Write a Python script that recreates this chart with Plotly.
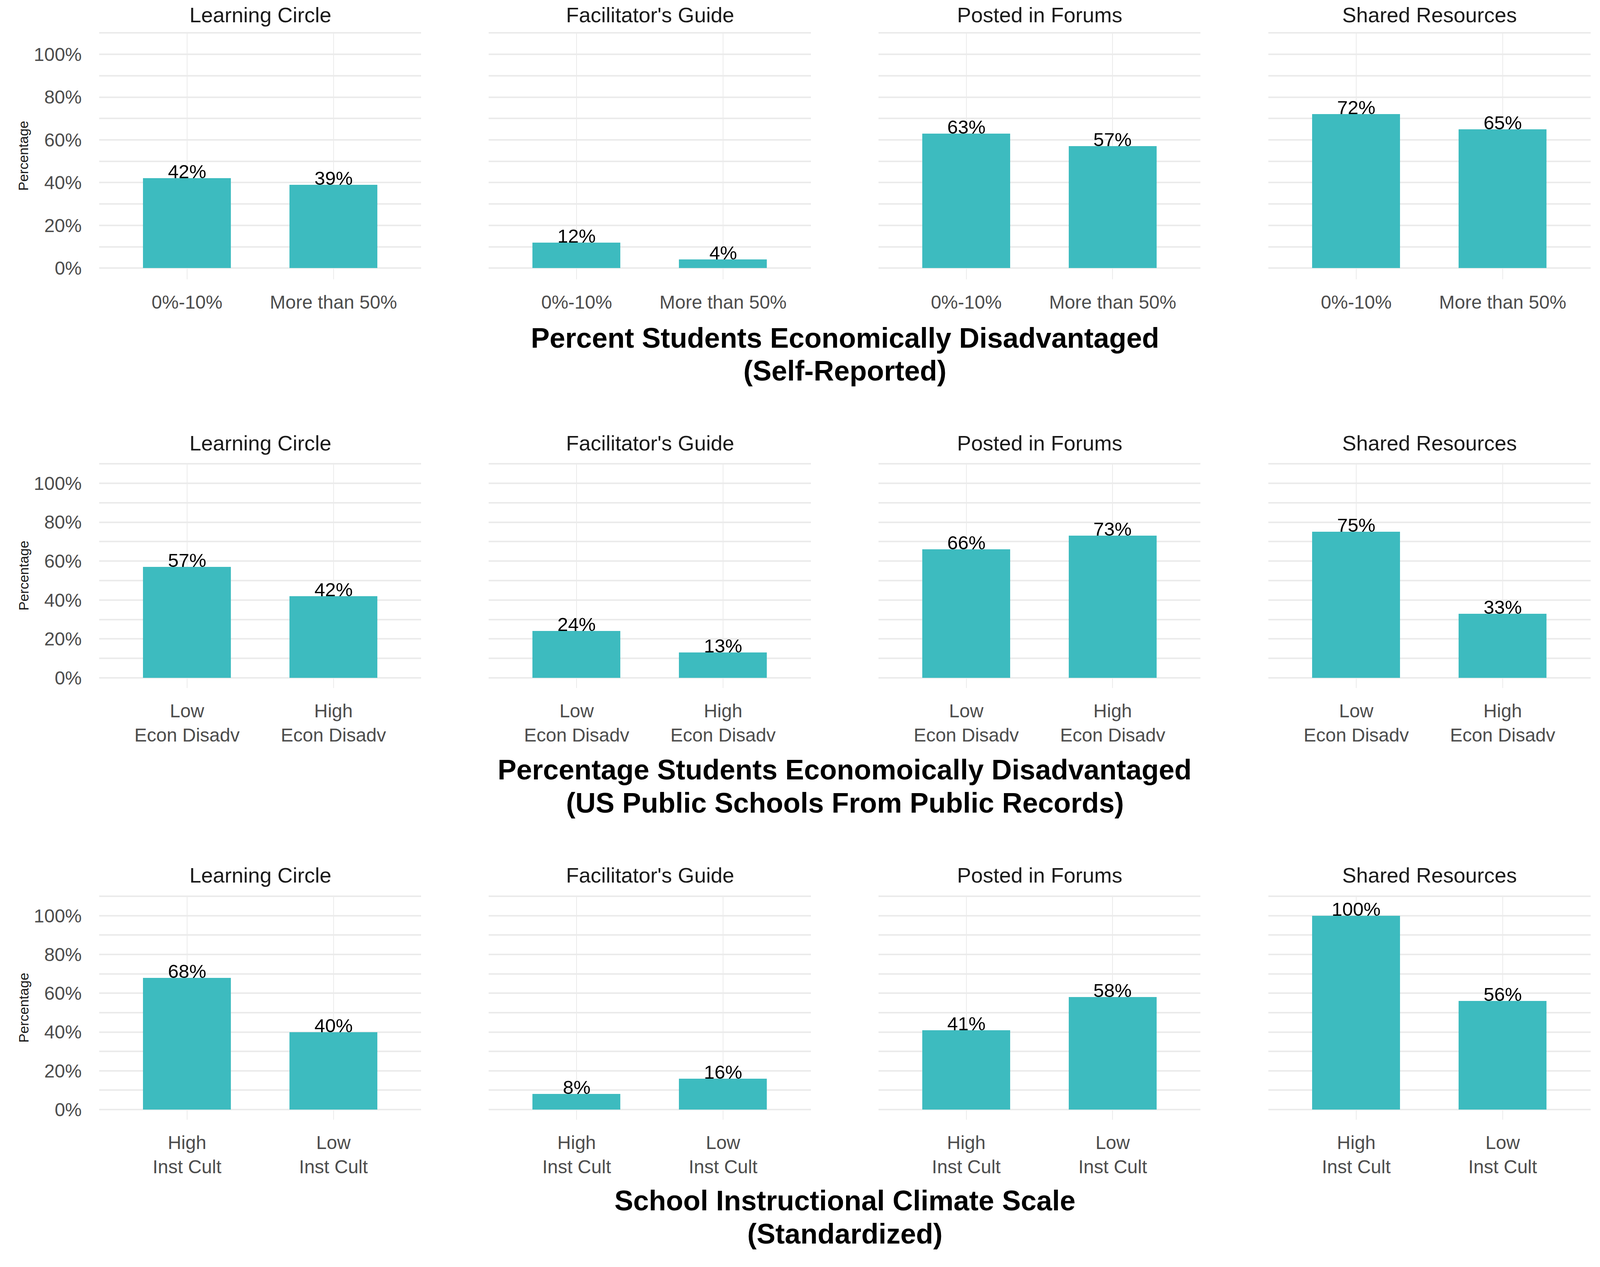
import plotly.graph_objects as go

# the page is photographed in a 4096x3243 viewport; positions below are read
# off the 4550x3243 reference and mapped onto that viewport
REF_W, REF_H = 4550, 3243
VIEW_W, VIEW_H = 4096, 3243
MARGIN = 8  # default body margin of the page
FIG_W, FIG_H = VIEW_W - 2 * MARGIN, VIEW_H - 2 * MARGIN

panels = ["Learning Circle", "Facilitator's Guide", "Posted in Forums", "Shared Resources"]

# row 1: self-reported
cats_self = ["0%-10%", "More than 50%"]
lc_self = [0.42, 0.39]
fg_self = [0.12, 0.04]
pf_self = [0.63, 0.57]
sr_self = [0.72, 0.65]

# row 2: public records
cats_pub = ["Low<br>Econ Disadv", "High<br>Econ Disadv"]
lc_pub = [0.57, 0.42]
fg_pub = [0.24, 0.13]
pf_pub = [0.66, 0.73]
sr_pub = [0.75, 0.33]

# row 3: instructional climate
cats_clim = ["High<br>Inst Cult", "Low<br>Inst Cult"]
lc_clim = [0.68, 0.40]
fg_clim = [0.08, 0.16]
pf_clim = [0.41, 0.58]
sr_clim = [1.00, 0.56]

row_titles = [
    ["Percent Students Economically Disadvantaged", "(Self-Reported)"],
    ["Percentage Students Economoically Disadvantaged", "(US Public Schools From Public Records)"],
    ["School Instructional Climate Scale", "(Standardized)"],
]

rows = [
    (cats_self, [lc_self, fg_self, pf_self, sr_self]),
    (cats_pub, [lc_pub, fg_pub, pf_pub, sr_pub]),
    (cats_clim, [lc_clim, fg_clim, pf_clim, sr_clim]),
]

# layout in reference pixels
col_x = [(282, 1198), (1390, 2306), (2498, 3414), (3607, 4523)]
row_y = [(83, 715), (1186, 1761), (2293, 2866)]
strip_y = [38, 1134, 2240]
title_y = [(865, 949), (1970, 2055), (3073, 3158)]

BAR = "#3DBBBF"
GRID = "#EBEBEB"
FONT = "Liberation Sans, Arial, sans-serif"


def px(x):
    return (x * VIEW_W / REF_W - MARGIN) / FIG_W


def py(y):
    return 1 - (y * VIEW_H / REF_H - MARGIN) / FIG_H


fig = go.Figure()
annotations = []
layout = {}

n = 0
for r, (cats, series) in enumerate(rows):
    for c, vals in enumerate(series):
        n += 1
        xa = "x" if n == 1 else f"x{n}"
        ya = "y" if n == 1 else f"y{n}"
        fig.add_trace(go.Bar(
            x=cats, y=vals, xaxis=xa, yaxis=ya,
            marker=dict(color=BAR, line=dict(width=0)),
            width=0.6, showlegend=False, hoverinfo="skip",
        ))
        for cat, v in zip(cats, vals):
            annotations.append(dict(
                x=cat, y=v, xref=xa, yref=ya, text=f"{round(v * 100)}%",
                showarrow=False, yanchor="bottom", yshift=-12,
                font=dict(family=FONT, size=49, color="black"),
            ))

        x0, x1 = col_x[c]
        y0, y1 = row_y[r]
        layout["xaxis" if n == 1 else f"xaxis{n}"] = dict(
            domain=[px(x0), px(x1)], anchor=ya, type="category",
            range=[-0.6, 1.6], showgrid=True, gridcolor=GRID, gridwidth=2,
            zeroline=False, showline=False,
            ticks="outside", ticklen=16, tickcolor="rgba(0,0,0,0)",
            tickfont=dict(family=FONT, size=48, color="#4D4D4D"),
            fixedrange=True,
        )
        layout["yaxis" if n == 1 else f"yaxis{n}"] = dict(
            domain=[py(y1), py(y0)], anchor=xa,
            range=[-0.0525, 1.1025], tickvals=[0, 0.2, 0.4, 0.6, 0.8, 1.0],
            tickformat=".0%", showticklabels=(c == 0),
            showgrid=True, gridcolor=GRID, gridwidth=4,
            minor=dict(tickvals=[0.1, 0.3, 0.5, 0.7, 0.9, 1.1], showgrid=True,
                       gridcolor=GRID, gridwidth=4),
            zeroline=False, showline=False,
            ticks="outside", ticklen=34, tickcolor="rgba(0,0,0,0)",
            tickfont=dict(family=FONT, size=48, color="#4D4D4D"),
            fixedrange=True,
        )

        # panel title
        annotations.append(dict(
            x=px((x0 + x1) / 2), y=py(strip_y[r]), xref="paper", yref="paper",
            text=panels[c], showarrow=False, xanchor="center", yanchor="middle",
            font=dict(family=FONT, size=54, color="#1A1A1A"),
        ))

    # y axis title
    y0, y1 = row_y[r]
    annotations.append(dict(
        x=px(67), y=py((y0 + y1) / 2), xref="paper", yref="paper",
        text="Percentage", textangle=-90, showarrow=False,
        xanchor="center", yanchor="middle",
        font=dict(family=FONT, size=35, color="#1A1A1A"),
    ))

    # row title (two lines)
    for line, yy in zip(row_titles[r], title_y[r]):
        annotations.append(dict(
            x=px((col_x[0][0] + col_x[3][1]) / 2), y=py(yy), xref="paper", yref="paper",
            text=f"<b>{line}</b>", showarrow=False, xanchor="center", yanchor="middle",
            font=dict(family=FONT, size=72, color="black"),
        ))

fig.update_layout(
    width=FIG_W, height=FIG_H,
    margin=dict(l=0, r=0, t=0, b=0),
    paper_bgcolor="white", plot_bgcolor="white",
    annotations=annotations,
    bargap=0,
    **layout,
)

fig.write_html("out.html")
